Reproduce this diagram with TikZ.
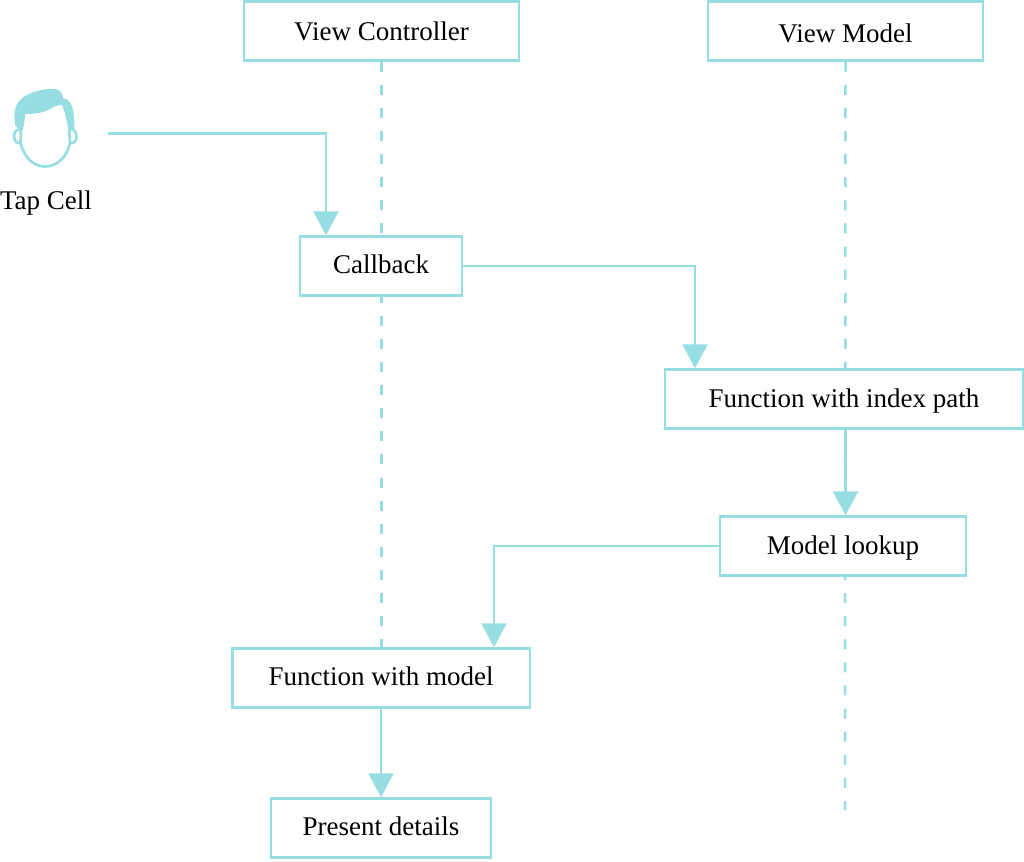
\documentclass[tikz,border=0pt]{standalone}
\usepackage{fontspec}
\setmainfont{Liberation Serif}
\usetikzlibrary{arrows.meta}
\definecolor{teal}{RGB}{150,222,226}
\newcommand{\up}[2]{\raisebox{#1pt}{#2}}
\tikzset{
  x=1pt,y=-1pt,
  box/.style={draw=teal,line width=2.5pt,fill=white,minimum height=59pt,inner sep=0pt,text height=24pt,text depth=6pt,font=\fontsize{27}{30}\selectfont,text=black,anchor=center},
  life/.style={draw=teal,line width=2.5pt,dash pattern=on 10pt off 13.1pt},
  conn/.style={draw=teal,line width=2.5pt,-{Triangle[length=24pt,width=25pt,color=teal]}},
  headline/.style={draw=teal,line width=2.7pt},
}
\begin{document}
\begin{tikzpicture}
\useasboundingbox (0,0) rectangle (1024,861);
\coordinate (vmend) at (845,810);
\coordinate (fromp) at (108,133.5);
\node[box,minimum width=275pt] (vc) at (381.5,31) {\up{-1}{View Controller}};
\node[box,minimum width=275pt] (vm) at (845.5,31) {\up{-3}{View Model}};
\node[box,minimum width=297.5pt] (fm) at (381,678) {\up{2}{Function with model}};
\draw[life] (vc.south) -- (vc.south |- fm.north);
\draw[life] (vm.south) -- (vmend);
\node[box,minimum width=162pt] (cb) at (381,266) {\up{2}{Callback}};
\node[box,minimum width=358pt] (fi) at (844,399) {\up{1}{Function with index path}};
\node[box,minimum width=246pt] (ml) at (843,546) {\up{1}{Model lookup}};
\node[box,minimum width=220pt] (pd) at (381,828) {\up{2}{Present details}};
% person: ears, face, hair
\draw[headline] (22,130) .. controls (17,128) and (14,132) .. (14,136) .. controls (14,141) and (17,144) .. (20.5,143);
\draw[headline] (69,130) .. controls (74,128) and (76.5,132) .. (76.5,136) .. controls (76.5,141) and (74,144) .. (70,143);
\draw[headline] (21,125) -- (20.5,143) .. controls (24,157) and (33,166.5) .. (45,166.5) .. controls (57,166.5) and (67,157) .. (70,143) -- (69,125);
\fill[teal] (23,130) .. controls (19,129) and (16,128) .. (15.5,126) .. controls (14,118) and (14,112) .. (15.5,108) .. controls (18,97) and (33,90) .. (50,89) .. controls (58,88.5) and (62,90) .. (63,98) .. controls (70,99) and (73,106) .. (74,117) -- (74.5,130) -- (68.5,130) .. controls (67,120) and (64,110) .. (62,105) .. controls (55,105) and (51,109) .. (46,111) .. controls (40,113.5) and (32,114) .. (25.5,114) -- cycle;
\node[font=\fontsize{27}{30}\selectfont,text=black] (tap) at (46,203) {Tap Cell};
\draw[conn] (fromp) -| ([xshift=-55pt]cb.north);
\draw[conn] (cb.east) -| ([xshift=-149pt]fi.north);
\draw[conn] (vm.south |- fi.south) -- (vm.south |- ml.north);
\draw[conn] (ml.west) -| ([xshift=113pt]fm.north);
\draw[conn] (fm.south) -- (pd.north);
\end{tikzpicture}
\end{document}
